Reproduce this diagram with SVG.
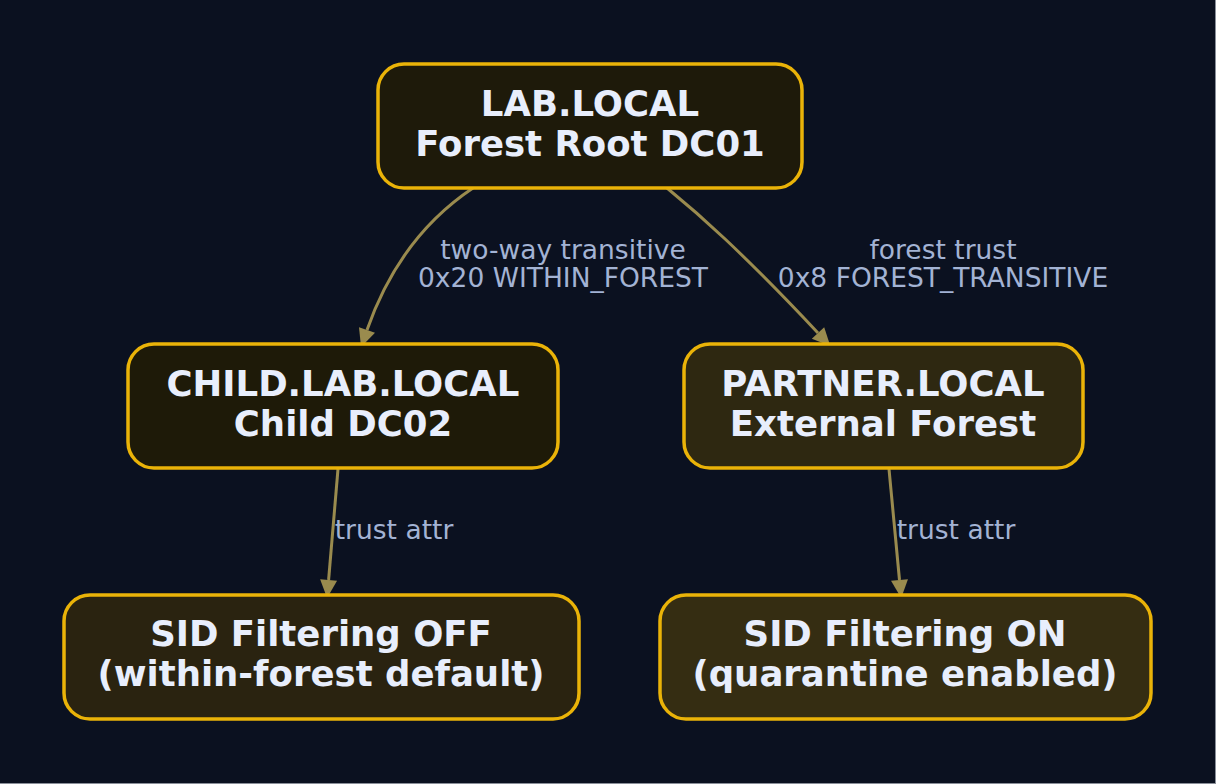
<svg xmlns="http://www.w3.org/2000/svg" width="1216" height="784" viewBox="0 0 1216 784">
<style>
.box{stroke:#eab308;stroke-width:3.5}
.t{font-family:"DejaVu Sans",sans-serif;font-weight:bold;font-size:35.5px;fill:#e8eefc;text-anchor:middle}
.el{font-family:"DejaVu Sans",sans-serif;font-size:26.5px;fill:#a3b3d4;text-anchor:middle}
.e{fill:none;stroke:#9a8b4e;stroke-width:3}
</style>
<defs>
<marker id="ah" markerUnits="userSpaceOnUse" markerWidth="20" markerHeight="20" refX="0" refY="0" viewBox="0 -10 20 20" orient="auto" overflow="visible">
<path d="M0,-8.5 L18,0 L0,8.5 Z" fill="#9a8b4e"/>
</marker>
</defs>
<rect x="0" y="0" width="1216" height="784" fill="#8a8f99"/>
<rect x="0" y="0" width="1215" height="783" fill="#0b1120"/>
<g id="connectors">
<path class="e" d="M473,188 C440,210 395,250 367,330" marker-end="url(#ah)"/>
<path class="e" d="M667,188 C700,215 740,250 818,333" marker-end="url(#ah)"/>
<path class="e" d="M338,469 L328.6,580" marker-end="url(#ah)"/>
<path class="e" d="M889,469 L899.5,580" marker-end="url(#ah)"/>
<text class="el" x="563" y="259">two-way transitive</text>
<text class="el" x="563" y="287">0x20 WITHIN_FOREST</text>
<text class="el" x="943" y="259">forest trust</text>
<text class="el" x="943" y="287">0x8 FOREST_TRANSITIVE</text>
<text class="el" x="394" y="539">trust attr</text>
<text class="el" x="956" y="539">trust attr</text>
</g>
<g id="root">
<rect class="box" x="378" y="64" width="424" height="124" rx="26" fill="#1e1a0a"/>
<text class="t" x="590" y="116">LAB.LOCAL</text>
<text class="t" x="590" y="156">Forest Root DC01</text>
</g>
<g id="child">
<rect class="box" x="128" y="344" width="430" height="124" rx="26" fill="#1e1a08"/>
<text class="t" x="343" y="396">CHILD.LAB.LOCAL</text>
<text class="t" x="343" y="436">Child DC02</text>
</g>
<g id="partner">
<rect class="box" x="684" y="344" width="399" height="124" rx="26" fill="#2e2811"/>
<text class="t" x="883" y="396">PARTNER.LOCAL</text>
<text class="t" x="883" y="436">External Forest</text>
</g>
<g id="sidoff">
<rect class="box" x="64" y="595" width="515" height="124" rx="26" fill="#2a2310"/>
<text class="t" x="321" y="646">SID Filtering OFF</text>
<text class="t" x="321" y="686">(within-forest default)</text>
</g>
<g id="sidon">
<rect class="box" x="660" y="595" width="491" height="124" rx="26" fill="#352d12"/>
<text class="t" x="905" y="646">SID Filtering ON</text>
<text class="t" x="905" y="686">(quarantine enabled)</text>
</g>
</svg>
